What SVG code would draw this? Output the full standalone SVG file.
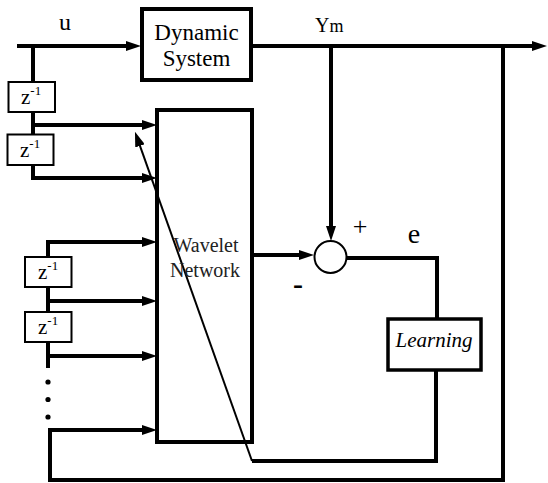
<svg xmlns="http://www.w3.org/2000/svg" width="548" height="483" viewBox="0 0 548 483">
<style>
.box{fill:#fff;stroke:#000;stroke-width:4}
.zbox{fill:#fff;stroke:#000;stroke-width:2}
.wire{fill:none;stroke:#000;stroke-width:4}
.thin{fill:none;stroke:#000;stroke-width:2}
.dot{fill:#000}
</style>
<defs>
<marker id="ah" markerUnits="userSpaceOnUse" markerWidth="15" markerHeight="10" refX="5" refY="5" orient="auto">
<path d="M0,0 L15,5 L0,10 z" fill="#000"/>
</marker>
</defs>
<g id="connectors">
<path class="wire" d="M17,46 H131" marker-end="url(#ah)"/>
<path class="wire" d="M33,46 V82"/>
<path class="wire" d="M33,112 V134"/>
<path class="wire" d="M33,125 H147" marker-end="url(#ah)"/>
<path class="wire" d="M33,165 V178 H147" marker-end="url(#ah)"/>
<path class="wire" d="M252,46 H537" marker-end="url(#ah)"/>
<path class="wire" d="M331,46 V231" marker-end="url(#ah)"/>
<path class="wire" d="M503,46 V480 H50 V430 H147" marker-end="url(#ah)"/>
<path class="wire" d="M48,242 H147" marker-end="url(#ah)"/>
<path class="wire" d="M48,240 V257"/>
<path class="wire" d="M48,287 V312"/>
<path class="wire" d="M48,301 H147" marker-end="url(#ah)"/>
<path class="wire" d="M48,342 V368"/>
<path class="wire" d="M48,356 H147" marker-end="url(#ah)"/>
<path class="wire" d="M252,255 H304" marker-end="url(#ah)"/>
<path class="wire" d="M346.5,258 H437 V319"/>
<path class="wire" d="M436,370 V461 H252"/>
<path class="thin" d="M252,461 L138.3,141.1" marker-end="url(#ah)"/>
<circle class="dot" cx="48" cy="382" r="2.6"/>
<circle class="dot" cx="48" cy="399.5" r="2.6"/>
<circle class="dot" cx="48" cy="417" r="2.6"/>
</g>
<g font-family="'Liberation Serif', serif" fill="#000">
<g id="dynamic-system">
<rect class="box" x="142" y="9" width="109" height="71"/>
<text x="196.5" y="40" font-size="23" text-anchor="middle">Dynamic</text>
<text x="196.5" y="66" font-size="23" text-anchor="middle">System</text>
</g>
<g id="delay1">
<rect class="zbox" x="8.5" y="82" width="46.5" height="30"/>
<text x="21" y="104" font-size="21">z<tspan font-size="13" dy="-9">-1</tspan></text>
</g>
<g id="delay2">
<rect class="zbox" x="7.5" y="134.5" width="46" height="30.5"/>
<text x="20" y="157" font-size="21">z<tspan font-size="13" dy="-9">-1</tspan></text>
</g>
<g id="delay3">
<rect class="zbox" x="25" y="257" width="46.5" height="30"/>
<text x="38" y="279" font-size="21">z<tspan font-size="13" dy="-9">-1</tspan></text>
</g>
<g id="delay4">
<rect class="zbox" x="25" y="312" width="46.5" height="30"/>
<text x="38" y="334" font-size="21">z<tspan font-size="13" dy="-9">-1</tspan></text>
</g>
<g id="wavelet-network">
<rect x="157" y="110" width="95" height="332" fill="none" stroke="#000" stroke-width="4"/>
<text x="206" y="252" font-size="20" text-anchor="middle" fill="#222">Wavelet</text>
<text x="205" y="277" font-size="20" text-anchor="middle" fill="#222">Network</text>
</g>
<g id="summing-junction">
<circle cx="330.5" cy="257" r="16" fill="#fff" stroke="#000" stroke-width="2"/>
</g>
<g id="learning">
<rect class="box" x="388" y="319" width="93" height="51" style="stroke-width:3.5"/>
<text x="434" y="347" font-size="21" font-style="italic" text-anchor="middle">Learning</text>
</g>
<g id="labels">
<text x="65" y="30" font-size="24" text-anchor="middle">u</text>
<text x="315" y="32"><tspan font-size="20">Y</tspan><tspan font-size="18">m</tspan></text>
<text x="360" y="235" font-size="26" text-anchor="middle">+</text>
<text x="298" y="294" font-size="30" text-anchor="middle" font-weight="bold">-</text>
<text x="414" y="243" font-size="28" text-anchor="middle">e</text>
</g>
</g>
</svg>
